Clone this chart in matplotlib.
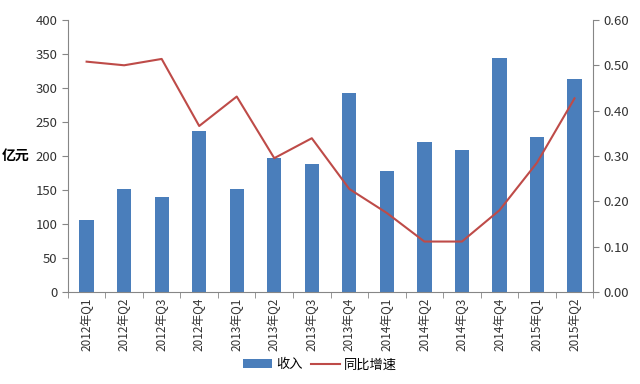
import matplotlib
matplotlib.use('Agg')
import matplotlib.pyplot as plt
import numpy as np

plt.rcParams['font.family'] = ['Noto Sans CJK SC', 'DejaVu Sans']

quarters = ['2012年Q1', '2012年Q2', '2012年Q3', '2012年Q4',
            '2013年Q1', '2013年Q2', '2013年Q3', '2013年Q4',
            '2014年Q1', '2014年Q2', '2014年Q3', '2014年Q4',
            '2015年Q1', '2015年Q2']
revenue = [106, 152, 140, 237, 152, 197, 188, 292, 178, 220, 209, 344, 228, 313]
growth = [0.508, 0.500, 0.514, 0.366, 0.431, 0.295, 0.339, 0.227,
          0.174, 0.111, 0.111, 0.180, 0.285, 0.427]

bar_color = '#4a7ebb'
line_color = '#be4b48'
grey = '#868686'

fig = plt.figure(figsize=(6.4, 3.84), dpi=100)
ax = fig.add_axes([0.106, 0.24, 0.821, 0.708])
x = np.arange(len(quarters))
b = ax.bar(x, revenue, width=0.38, color=bar_color, label='收入')
ax.set_xlim(-0.5, len(quarters) - 0.5)
ax.set_ylim(0, 400)
ax.set_yticks(range(0, 401, 50))
ax.set_xticks(x)
ax.set_xticklabels(quarters, rotation=90, fontsize=8.5, color='#333333')
ax.tick_params(axis='x', length=0, pad=4)
ax.set_xticks(np.arange(-0.5, len(quarters), 1), minor=True)
ax.tick_params(axis='x', which='minor', length=4, color=grey)
ax.tick_params(axis='y', labelsize=9.5, colors=grey, labelcolor='#333333', length=4)
ax.spines['top'].set_visible(False)
ax.spines['right'].set_visible(False)
ax.spines['left'].set_color(grey)
ax.spines['bottom'].set_color(grey)
ax.set_ylabel('亿元', rotation=0, fontsize=10, fontweight='bold', labelpad=14, va='center')

ax2 = ax.twinx()
l, = ax2.plot(x, growth, color=line_color, lw=1.5, label='同比增速')
ax2.set_ylim(0, 0.6)
ax2.set_yticks(np.arange(0, 0.61, 0.1))
ax2.set_yticklabels(['%.2f' % v for v in np.arange(0, 0.61, 0.1)])
ax2.tick_params(axis='y', labelsize=9.5, colors=grey, labelcolor='#333333', length=4)
ax2.spines['top'].set_visible(False)
ax2.spines['left'].set_visible(False)
ax2.spines['bottom'].set_visible(False)
ax2.spines['right'].set_color(grey)

fig.legend([b, l], ['收入', '同比增速'], loc='center', bbox_to_anchor=(0.5, 0.05),
           ncol=2, frameon=False, fontsize=9.5, handlelength=2.2, columnspacing=0.6,
           handletextpad=0.3)

fig.savefig('out.png', dpi=100)
